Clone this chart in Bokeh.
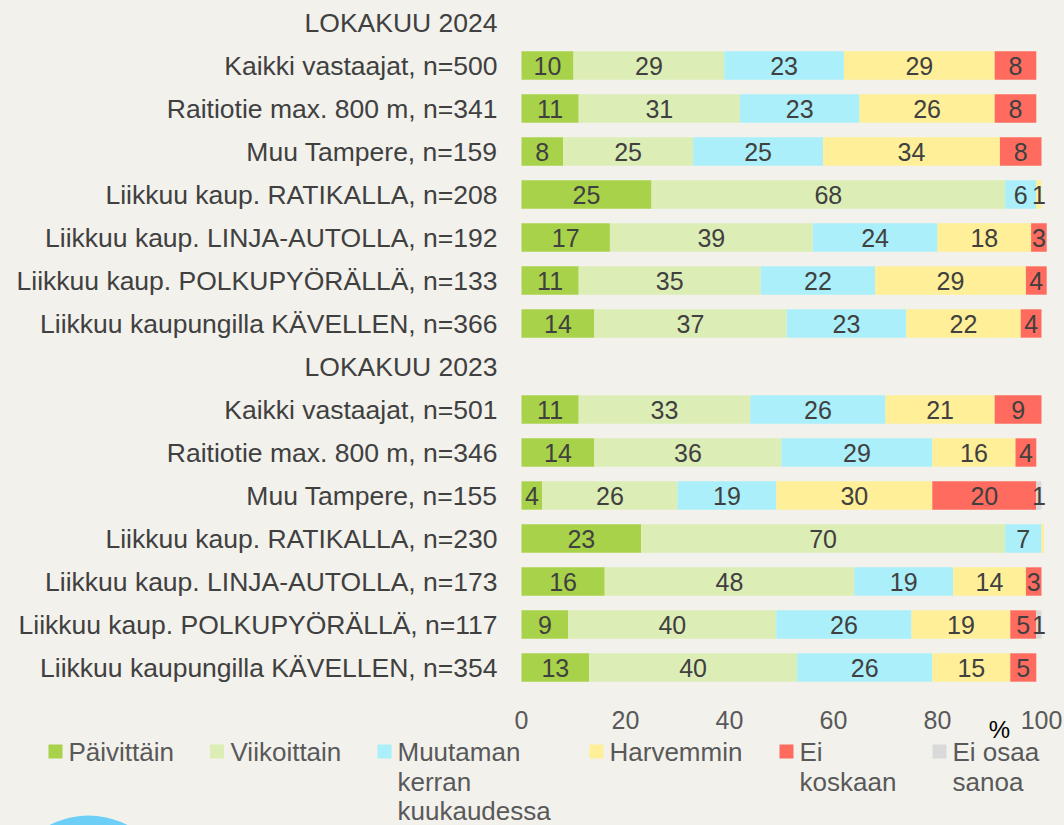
from bokeh.plotting import figure
from bokeh.models import Range1d, FixedTicker, ColumnDataSource
from bokeh.embed import file_html
from bokeh.resources import INLINE
from bokeh.core.properties import value

# ---------------- data ----------------
categories = [
    "LOKAKUU 2024",
    "Kaikki vastaajat, n=500",
    "Raitiotie max. 800 m, n=341",
    "Muu Tampere, n=159",
    "Liikkuu kaup. RATIKALLA, n=208",
    "Liikkuu kaup. LINJA-AUTOLLA, n=192",
    "Liikkuu kaup. POLKUPYÖRÄLLÄ, n=133",
    "Liikkuu kaupungilla KÄVELLEN, n=366",
    "LOKAKUU 2023",
    "Kaikki vastaajat, n=501",
    "Raitiotie max. 800 m, n=346",
    "Muu Tampere, n=155",
    "Liikkuu kaup. RATIKALLA, n=230",
    "Liikkuu kaup. LINJA-AUTOLLA, n=173",
    "Liikkuu kaup. POLKUPYÖRÄLLÄ, n=117",
    "Liikkuu kaupungilla KÄVELLEN, n=354",
]
header_rows = ["LOKAKUU 2024", "LOKAKUU 2023"]
bar_rows = [c for c in categories if c not in header_rows]

series_names = ["Päivittäin", "Viikoittain", "Muutaman kerran kuukaudessa",
                "Harvemmin", "Ei koskaan", "Ei osaa sanoa"]
legend_lines = [["Päivittäin"], ["Viikoittain"], ["Muutaman", "kerran", "kuukaudessa"],
                ["Harvemmin"], ["Ei", "koskaan"], ["Ei osaa", "sanoa"]]

paivittain  = [10, 11, 8, 25, 17, 11, 14, 11, 14, 4, 23, 16, 9, 13]
viikoittain = [29, 31, 25, 68, 39, 35, 37, 33, 36, 26, 70, 48, 40, 40]
muutaman    = [23, 23, 25, 6, 24, 22, 23, 26, 29, 19, 7, 19, 26, 26]
harvemmin   = [29, 26, 34, 1, 18, 29, 22, 21, 16, 30, 0.5, 14, 19, 15]
ei_koskaan  = [8, 8, 8, 0, 3, 4, 4, 9, 4, 20, 0, 3, 5, 5]
ei_osaa     = [0, 0, 0, 0, 0, 0, 0, 0, 0, 1, 0, 0, 1, 0]

x_ticks = [0, 20, 40, 60, 80, 100]

colors = ["#a8d249", "#ddedb6", "#aaeffa", "#ffef98", "#ff6b5e", "#d9d9d9"]
BG = "#f2f1ec"
TXT = "#404040"
TXT2 = "#595959"
FONT = "Liberation Sans"

series_values = [paivittain, viikoittain, muutaman, harvemmin, ei_koskaan, ei_osaa]
keys = ["s%d" % i for i in range(len(series_values))]

ypos = [categories.index(c) for c in bar_rows]
src = {"y": ypos}
for k, vals in zip(keys, series_values):
    src[k] = vals
source = ColumnDataSource(src)

# ---------------- canvas geometry (pixels) ----------------
W, H = 1064, 825
X0, X100 = 521, 1041           # plot area left/right in pixels
Y_FIRST, PITCH = 22, 43        # centre of first row, row pitch
Y_AXIS = 700                   # pixel position of the x axis
kx = (X100 - X0) / 100.0

def dx(px):
    return (px - X0) / kx

def dy(py):
    return (py - Y_FIRST) / PITCH

p = figure(width=W, height=H, output_backend="svg", toolbar_location=None,
           x_range=Range1d(dx(0), dx(W)), y_range=Range1d(dy(H), dy(0)),
           min_border=0,
           background_fill_color=BG, border_fill_color=BG, outline_line_color=None)

p.hbar_stack(keys, y="y", height=0.66, color=colors, line_color=None, source=source)

# value labels
lx, ly, lt = [], [], []
for i, y in enumerate(ypos):
    cum = 0
    for vals in series_values:
        v = vals[i]
        if v >= 1:
            lx.append(cum + v / 2)
            ly.append(y)
            lt.append(str(int(round(v))))
        cum += v
p.text(x=lx, y=ly, text=lt, text_align="center", text_baseline="middle",
       text_font=value(FONT), text_font_size="25px", text_color=TXT)

p.xgrid.visible = False
p.ygrid.visible = False

ya = p.yaxis[0]
ya.fixed_location = 0
ya.ticker = FixedTicker(ticks=list(range(len(categories))))
ya.major_label_overrides = {i: c for i, c in enumerate(categories)}
ya.axis_line_color = None
ya.major_tick_line_color = None
ya.minor_tick_line_color = None
ya.major_tick_out = 0
ya.major_tick_in = 0
ya.major_label_standoff = 24
ya.major_label_text_font = FONT
ya.major_label_text_font_size = "26.5px"
ya.major_label_text_color = TXT

xa = p.xaxis[0]
xa.fixed_location = dy(Y_AXIS)
xa.ticker = FixedTicker(ticks=x_ticks)
xa.axis_line_color = None
xa.major_tick_line_color = None
xa.minor_tick_line_color = None
xa.major_tick_out = 0
xa.major_tick_in = 0
xa.major_label_standoff = 10
xa.major_label_text_font = FONT
xa.major_label_text_font_size = "25px"
xa.major_label_text_color = TXT2

# unit mark
p.text(x=[dx(999)], y=[dy(729)], text=["%"], text_align="center",
       text_baseline="middle", text_font=value(FONT), text_font_size="24px",
       text_color="#000000")

# ---------------- legend ----------------
# decorative circle (partly visible at the bottom)
p.circle(x=[dx(88)], y=[dy(900)], radius=85 / kx, color="#6dcff6", line_color=None)

sq_px = [55, 216.5, 384, 596, 786, 939]
tx_px = [68, 230, 397, 609, 799, 952]
line_px = [751, 781, 810]
p.scatter(x=[dx(v) for v in sq_px], y=[dy(line_px[0])] * 6, marker="square",
          size=14, color=colors, line_color=None)
tx, ty, tt = [], [], []
for i, lines in enumerate(legend_lines):
    for j, t in enumerate(lines):
        tx.append(dx(tx_px[i]))
        ty.append(dy(line_px[j]))
        tt.append(t)
p.text(x=tx, y=ty, text=tt, text_align="left", text_baseline="middle",
       text_font=value(FONT), text_font_size="26px", text_color=TXT2)

html = file_html(p, INLINE)
html = html.replace("</head>", "<style>html,body{background:%s;}</style></head>" % BG, 1)
open("out.html", "w").write(html)
